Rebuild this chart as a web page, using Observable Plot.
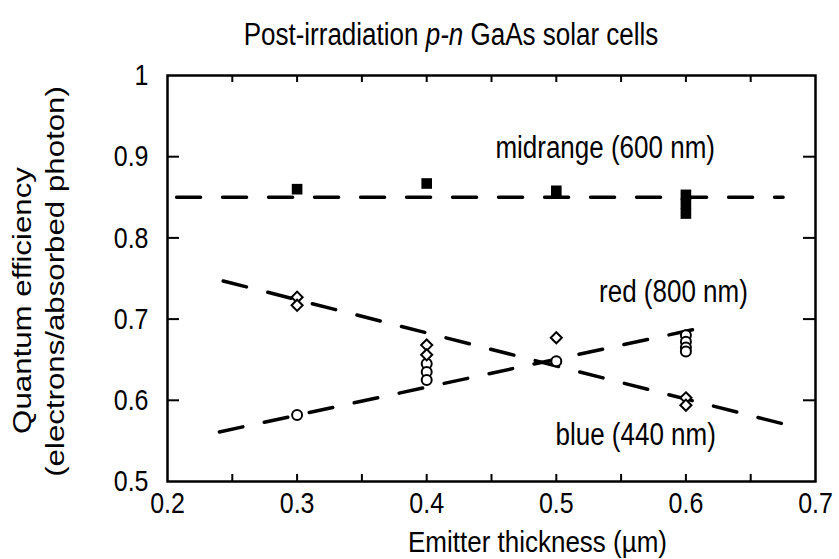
<!DOCTYPE html>
<html><head><meta charset="utf-8">
<script src="https://cdn.jsdelivr.net/npm/d3@7"></script>
<script src="https://cdn.jsdelivr.net/npm/@observablehq/plot@0.6"></script>
<style>
body{margin:0;background:#fff;}
#wrap{position:relative;width:839px;height:559px;font-family:"Liberation Sans",Arial,Helvetica,sans-serif;}
#title{position:absolute;left:151px;width:600px;top:23px;text-align:center;font-size:26px;line-height:26px;color:#000;white-space:nowrap;transform:scaleY(1.2);transform-origin:50% 22px;}
</style></head><body>
<div id="wrap"><div id="chart"></div><div id="title">Post-irradiation <i>p-n</i> GaAs solar cells</div></div>
<script>
// measurements: emitter thickness (µm) and quantum efficiency
const midX = [0.3, 0.4, 0.5, 0.6, 0.6, 0.6];
const midQE = [0.86, 0.867, 0.858, 0.853, 0.842, 0.83];
const redX = [0.3, 0.4, 0.4, 0.4, 0.5, 0.6, 0.6, 0.6, 0.6];
const redQE = [0.582, 0.645, 0.635, 0.625, 0.648, 0.68, 0.672, 0.665, 0.66];
const blueX = [0.3, 0.3, 0.4, 0.4, 0.5, 0.6, 0.6];
const blueQE = [0.727, 0.717, 0.668, 0.656, 0.677, 0.603, 0.594];
// dashed trend lines
const fitMidX = [0.207, 0.675], fitMidQE = [0.85, 0.85];
const fitRedX = [0.24, 0.62], fitRedQE = [0.561, 0.692];
const fitBlueX = [0.243, 0.675], fitBlueQE = [0.747, 0.571];
// ticks
const xTickLabels = [0.2, 0.3, 0.4, 0.5, 0.6, 0.7];
const yTickLabels = [0.5, 0.6, 0.7, 0.8, 0.9, 1];
const xMinorTicks = [0.25, 0.3, 0.35, 0.4, 0.45, 0.5, 0.55, 0.6, 0.65];
const yMinorTicks = [0.6, 0.7, 0.8, 0.9];
// series annotations
const seriesLabels = ["midrange (600 nm)", "red (800 nm)", "blue (440 nm)"];
const labelX = [0.453, 0.533, 0.4994];
const labelQE = [0.899, 0.721, 0.545];
const xTitle = "Emitter thickness (\u00b5m)";

const zip = (xs, ys) => xs.map((x, i) => ({x, y: ys[i]}));
const W = 839, H = 559, mL = 167, mR = 24, mT = 75, mB = 78;
const plotW = W - mL - mR, plotH = H - mT - mB;
const font = "Liberation Sans, Arial, Helvetica, sans-serif";
const dash = {stroke: "black", strokeWidth: 3.5, strokeDasharray: "24,22", x: "x", y: "y"};

const chart = Plot.plot({
  width: W, height: H,
  marginLeft: mL, marginRight: mR, marginTop: mT, marginBottom: mB,
  style: {fontFamily: font, background: "white", color: "black"},
  x: {domain: [0.2, 0.7]},
  y: {domain: [0.5, 1]},
  marks: [
    Plot.line(zip(fitMidX, fitMidQE), dash),
    Plot.line(zip(fitRedX, fitRedQE), dash),
    Plot.line(zip(fitBlueX, fitBlueQE), dash),
    Plot.dot(zip(midX, midQE), {x: "x", y: "y", symbol: "square", fill: "black", r: 6}),
    Plot.dot(zip(redX, redQE), {x: "x", y: "y", symbol: "circle", fill: "white", stroke: "black", strokeWidth: 2, r: 5}),
    Plot.dot(zip(blueX, blueQE), {x: "x", y: "y", symbol: "diamond2", fill: "white", stroke: "black", strokeWidth: 2, r: 5}),
    Plot.tickX(xMinorTicks, {x: d => d, insetTop: plotH - 7, stroke: "black", strokeWidth: 2}),
    Plot.tickX(xMinorTicks, {x: d => d, insetBottom: plotH - 7, stroke: "black", strokeWidth: 2}),
    Plot.tickY(yMinorTicks, {y: d => d, insetRight: plotW - 12, stroke: "black", strokeWidth: 2}),
    Plot.tickY(yMinorTicks, {y: d => d, insetLeft: plotW - 12, stroke: "black", strokeWidth: 2}),
    Plot.frame({stroke: "black", strokeWidth: 2.5}),
    Plot.axisX(xTickLabels, {tickSize: 0, tickPadding: 10, fontSize: 25, tickFormat: d => String(d), label: null}),
    Plot.axisY(yTickLabels, {tickSize: 0, tickPadding: 19, fontSize: 25, tickFormat: d => String(d), label: null}),
    Plot.text(seriesLabels, {x: (d, i) => labelX[i], y: (d, i) => labelQE[i], text: d => d, textAnchor: "start", lineAnchor: "bottom", fontSize: 26, fill: "black"}),
    Plot.text([xTitle], {frameAnchor: "bottom", dx: 46, dy: 70, lineAnchor: "bottom", fontSize: 26, fill: "black"}),
    Plot.text(["Quantum efficiency"], {frameAnchor: "left", textAnchor: "middle", rotate: -90, dx: -145, dy: 22, fontSize: 25, fill: "black"}),
    Plot.text(["(electrons/absorbed photon)"], {frameAnchor: "left", textAnchor: "middle", rotate: -90, dx: -112, dy: 3, fontSize: 25, fill: "black"})
  ]
});
document.getElementById("chart").appendChild(chart);

// the scanned original has glyphs stretched vertically; mimic that
d3.select(chart).selectAll("text").each(function() {
  const el = d3.select(this);
  let t = el.attr("transform") || "";
  const x = +el.attr("x") || 0, y = +el.attr("y") || 0;
  if (x || y) { t = `translate(${x},${y}) ` + t; el.attr("x", null).attr("y", null); }
  const sv = this.textContent === xTitle ? 1.12 : 1.2;
  el.attr("transform", t + (t.includes("rotate") ? " scale(1.25,1)" : ` scale(1,${sv})`));
});
</script>
</body></html>
